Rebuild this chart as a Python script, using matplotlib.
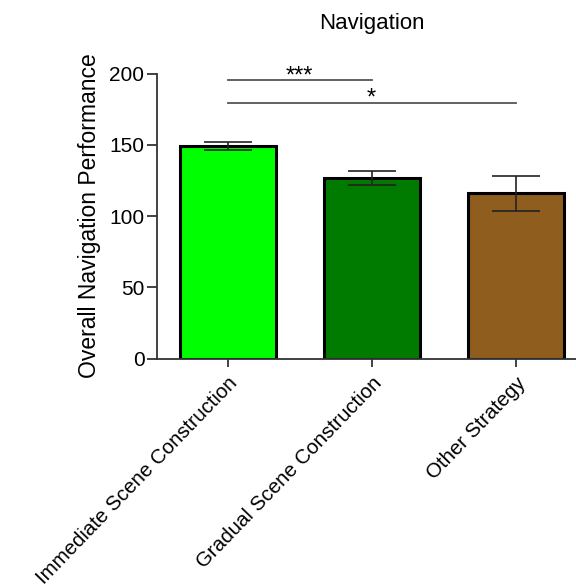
import numpy as np
import matplotlib.pyplot as plt

plt.rcParams['font.family'] = ['Liberation Sans', 'DejaVu Sans']

# data
groups = ['Immediate Scene Construction', 'Gradual Scene Construction', 'Other Strategy']
means = [149, 126.7, 116]
sems = [2.8, 4.9, 12.2]
colors = ['#00ff00', '#007b00', '#8f5e1e']
sig_pairs = [(0, 1, '***', 195.4), (0, 2, '*', 179.5)]

fig = plt.figure(figsize=(5.76, 5.87), dpi=100)
ax = fig.add_axes([157/576, 1 - 358.5/587, (576 - 157)/576, (358.5 - 73.5)/587])

x = np.arange(len(groups))
ax.bar(x, means, width=0.667, color=colors, edgecolor='black', linewidth=2.2, zorder=2)
ax.errorbar(x, means, yerr=sems, fmt='none', ecolor='#222222', elinewidth=1.2,
            capsize=17, capthick=1.2, zorder=3)

for i, j, txt, y in sig_pairs:
    ax.plot([x[i], x[j]], [y, y], color='#555555', lw=1.3, clip_on=False)
    ax.annotate(txt, ((x[i] + x[j]) / 2, y), xytext=(0, -1.5), textcoords='offset points',
                ha='center', va='baseline', fontsize=17)

ax.set_xlim(-0.49, 2.42)
ax.set_ylim(0, 200)
ax.set_yticks([0, 50, 100, 150, 200])
ax.set_xticks(x)
ax.set_xticklabels(groups, rotation=46, ha='right', rotation_mode='anchor', fontsize=14.8)
ax.tick_params(axis='y', labelsize=15, length=7, width=1.3, color='#333333', pad=2)
ax.tick_params(axis='x', length=6, width=1.3, color='#333333', pad=5)
for s in ['top', 'right']:
    ax.spines[s].set_visible(False)
for s in ['left', 'bottom']:
    ax.spines[s].set_linewidth(1.3)
    ax.spines[s].set_color('#333333')

ax.set_ylabel('Overall Navigation Performance', fontsize=16.5, labelpad=6)
fig.text(372/576, 1 - 23/587, 'Navigation', ha='center', va='center', fontsize=16)

fig.savefig('out.png', dpi=100)
